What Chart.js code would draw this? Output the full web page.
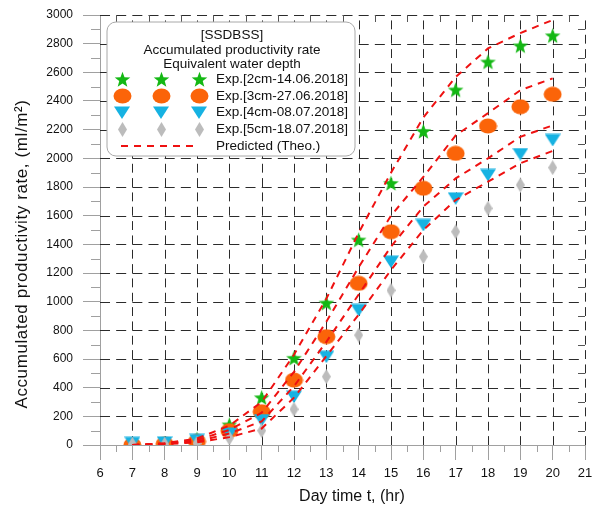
<!DOCTYPE html>
<html>
<head>
<meta charset="utf-8">
<script src="https://cdn.jsdelivr.net/npm/chart.js@4"></script>
<style>
  html, body { margin: 0; padding: 0; background: #ffffff; }
  #wrap { width: 594px; height: 508px; position: relative; }
</style>
</head>
<body>
<div id="wrap"><canvas id="c" width="594" height="508"></canvas></div>
<script>
// ---------------- data ----------------
const hours = [7, 8, 9, 10, 11, 12, 13, 14, 15, 16, 17, 18, 19, 20];
const exp2cm = [0, 10, 40, 140, 330, 605, 990, 1430, 1825, 2188, 2477, 2672, 2785, 2855];
const exp3cm = [0, 8, 25, 100, 232, 453, 756, 1128, 1488, 1791, 2035, 2226, 2360, 2447];
const exp4cm = [15, 18, 35, 80, 174, 337, 616, 942, 1279, 1535, 1721, 1884, 2030, 2128];
const exp5cm = [5, 5, 12, 48, 100, 249, 477, 767, 1079, 1314, 1488, 1651, 1814, 1935];
const pred2cm = [0, 12, 45, 135, 300, 630, 1020, 1480, 1900, 2285, 2567, 2767, 2874, 2965];
const pred3cm = [0, 10, 35, 105, 225, 510, 860, 1240, 1600, 1870, 2160, 2315, 2475, 2558];
const pred4cm = [0, 8, 25, 80, 165, 410, 720, 1050, 1384, 1663, 1860, 2000, 2150, 2230];
const pred5cm = [0, 6, 18, 55, 115, 330, 620, 910, 1221, 1500, 1709, 1837, 1966, 2052];

const xTickValues = [6, 7, 8, 9, 10, 11, 12, 13, 14, 15, 16, 17, 18, 19, 20, 21];
const yTickValues = [0, 200, 400, 600, 800, 1000, 1200, 1400, 1600, 1800, 2000, 2200, 2400, 2600, 2800, 3000];
const xMinorValues = [6.5, 7.5, 8.5, 9.5, 10.5, 11.5, 12.5, 13.5, 14.5, 15.5, 16.5, 17.5, 18.5, 19.5, 20.5];
const yMinorValues = [100, 300, 500, 700, 900, 1100, 1300, 1500, 1700, 1900, 2100, 2300, 2500, 2700, 2900];

const legendTitle = ['[SSDBSS]', 'Accumulated productivity rate', 'Equivalent water depth'];
const seriesLabels = ['Exp.[2cm-14.06.2018]', 'Exp.[3cm-27.06.2018]', 'Exp.[4cm-08.07.2018]', 'Exp.[5cm-18.07.2018]'];
const predictedLabel = 'Predicted (Theo.)';
const xTitle = 'Day time t, (hr)';
const yTitle = 'Accumulated productivity rate, (ml/m\u00B2)';

// ---------------- marker images ----------------
const FONT = "'Liberation Sans', Arial, Helvetica, sans-serif";
function mk(w, h, draw) {
  const c = document.createElement('canvas');
  c.width = w; c.height = h;
  const g = c.getContext('2d');
  draw(g, w, h);
  return c;
}
const starImg = mk(17, 17, (g, w, h) => {
  const cx = w / 2, cy = h / 2 + 0.5, R = 8.2, r = 3.4;
  g.beginPath();
  for (let i = 0; i < 10; i++) {
    const a = -Math.PI / 2 + i * Math.PI / 5;
    const rr = i % 2 === 0 ? R : r;
    const px = cx + rr * Math.cos(a), py = cy + rr * Math.sin(a);
    i === 0 ? g.moveTo(px, py) : g.lineTo(px, py);
  }
  g.closePath();
  g.fillStyle = '#14b814';
  g.fill();
});
const circleImg = mk(19, 16, (g, w, h) => {
  g.beginPath();
  g.ellipse(w / 2, h / 2, 9, 7.6, 0, 0, Math.PI * 2);
  g.fillStyle = '#fb6409';
  g.fill();
});
const triImg = mk(16, 13, (g, w, h) => {
  g.beginPath();
  g.moveTo(0, 0.5); g.lineTo(w, 0.5); g.lineTo(w / 2, h);
  g.closePath();
  g.fillStyle = '#16b2e2';
  g.fill();
});
const diaImg = mk(9, 15, (g, w, h) => {
  g.beginPath();
  g.moveTo(w / 2, 0); g.lineTo(w, h / 2); g.lineTo(w / 2, h); g.lineTo(0, h / 2);
  g.closePath();
  g.fillStyle = '#bcbcbc';
  g.fill();
});
const markerImgs = [starImg, circleImg, triImg, diaImg];

const pts = (ys) => hours.map((h, i) => ({ x: h, y: ys[i] }));

function expSet(label, ys, img, order) {
  return { label, data: pts(ys), pointStyle: img, pointRadius: 8, showLine: false, order,
           backgroundColor: 'rgba(0,0,0,0)', borderColor: 'rgba(0,0,0,0)' };
}
function predSet(ys) {
  return { label: predictedLabel, data: pts(ys), showLine: true, pointRadius: 0, order: 0,
           borderColor: '#ee1111', borderWidth: 2, borderDash: [7, 6], tension: 0, fill: false };
}

// ---------------- plugins ----------------
const dashedGrid = {
  id: 'dashedGrid',
  beforeDatasetsDraw(chart) {
    const ctx = chart.ctx, xs = chart.scales.x, ys = chart.scales.y, a = chart.chartArea;
    const cellW = Math.abs(xs.getPixelForValue(xTickValues[1]) - xs.getPixelForValue(xTickValues[0]));
    const cellH = Math.abs(ys.getPixelForValue(yTickValues[0]) - ys.getPixelForValue(yTickValues[1]));
    ctx.save();
    ctx.strokeStyle = '#2b2b2b';
    ctx.lineWidth = 1;
    // vertical lines, drawn upward so a dash sits just above every crossing
    ctx.setLineDash([cellH / 2 * 0.62, cellH / 2 * 0.38]);
    xTickValues.forEach((v, i) => {
      if (i === 0) return;
      const px = Math.round(xs.getPixelForValue(v)) + 0.5;
      ctx.beginPath(); ctx.moveTo(px, a.bottom); ctx.lineTo(px, a.top); ctx.stroke();
    });
    // horizontal lines, drawn rightward so a dash starts at every crossing
    ctx.setLineDash([cellW / 2 * 0.62, cellW / 2 * 0.38]);
    yTickValues.forEach((v, i) => {
      if (i === 0) return;
      const py = Math.round(ys.getPixelForValue(v)) + 0.5;
      ctx.beginPath(); ctx.moveTo(a.left, py); ctx.lineTo(a.right, py); ctx.stroke();
    });
    ctx.setLineDash([]);
    // minor ticks: outside on bottom/left, inside on top/right
    ctx.strokeStyle = '#a0a0a0';
    ctx.beginPath();
    xMinorValues.forEach(v => {
      const px = Math.round(xs.getPixelForValue(v)) + 0.5;
      ctx.moveTo(px, a.bottom); ctx.lineTo(px, a.bottom + 7);
    });
    yMinorValues.forEach(v => {
      const py = Math.round(ys.getPixelForValue(v)) + 0.5;
      ctx.moveTo(a.left - 9, py); ctx.lineTo(a.left, py);
    });
    ctx.stroke();
    ctx.strokeStyle = '#555';
    ctx.beginPath();
    xMinorValues.forEach(v => {
      const px = Math.round(xs.getPixelForValue(v)) + 0.5;
      ctx.moveTo(px, a.top); ctx.lineTo(px, a.top + 7);
    });
    yMinorValues.forEach(v => {
      const py = Math.round(ys.getPixelForValue(v)) + 0.5;
      ctx.moveTo(a.right - 7, py); ctx.lineTo(a.right, py);
    });
    ctx.stroke();
    ctx.restore();
  }
};

const axisTitles = {
  id: 'axisTitles',
  afterDraw(chart) {
    const ctx = chart.ctx;
    ctx.save();
    ctx.fillStyle = '#111';
    ctx.textAlign = 'center';
    ctx.textBaseline = 'middle';
    ctx.font = '16px ' + FONT;
    ctx.fillText(xTitle, 352, 497);
    ctx.translate(22, 254);
    ctx.rotate(-Math.PI / 2);
    ctx.font = '17px ' + FONT;
    try { ctx.letterSpacing = '0.6px'; } catch (e) {}
    ctx.fillText(yTitle, 0, 0);
    ctx.restore();
  }
};

const boxLegend = {
  id: 'boxLegend',
  afterDraw(chart) {
    const ctx = chart.ctx;
    const bx = 107, by = 22, bw = 248, bh = 134, r = 9;
    ctx.save();
    ctx.beginPath();
    ctx.moveTo(bx + r, by);
    ctx.arcTo(bx + bw, by, bx + bw, by + bh, r);
    ctx.arcTo(bx + bw, by + bh, bx, by + bh, r);
    ctx.arcTo(bx, by + bh, bx, by, r);
    ctx.arcTo(bx, by, bx + bw, by, r);
    ctx.closePath();
    ctx.fillStyle = '#ffffff';
    ctx.fill();
    ctx.lineWidth = 1;
    ctx.strokeStyle = '#a8a8a8';
    ctx.stroke();

    ctx.fillStyle = '#111';
    ctx.font = '13.5px ' + FONT;
    ctx.textAlign = 'center';
    ctx.textBaseline = 'middle';
    const titleY = [35, 50, 64];
    legendTitle.forEach((t, i) => ctx.fillText(t, 232, titleY[i]));

    const rowY = [79, 96, 112, 129, 146];
    const mx = [122, 161, 199];
    ctx.textAlign = 'left';
    seriesLabels.forEach((t, i) => {
      const img = markerImgs[i];
      mx.forEach(x => ctx.drawImage(img, Math.round(x - img.width / 2), Math.round(rowY[i] - img.height / 2)));
      ctx.fillText(t, 216, rowY[i]);
    });
    ctx.strokeStyle = '#ee1111';
    ctx.lineWidth = 2;
    ctx.setLineDash([7, 6]);
    ctx.beginPath();
    ctx.moveTo(121, rowY[4]); ctx.lineTo(197, rowY[4]);
    ctx.stroke();
    ctx.setLineDash([]);
    ctx.fillText(predictedLabel, 216, rowY[4]);
    ctx.restore();
  }
};

// ---------------- chart ----------------
new Chart(document.getElementById('c'), {
  type: 'scatter',
  data: {
    datasets: [
      predSet(pred2cm), predSet(pred3cm), predSet(pred4cm), predSet(pred5cm),
      expSet(seriesLabels[3], exp5cm, diaImg, 1),
      expSet(seriesLabels[2], exp4cm, triImg, 2),
      expSet(seriesLabels[1], exp3cm, circleImg, 3),
      expSet(seriesLabels[0], exp2cm, starImg, 4)
    ]
  },
  options: {
    responsive: false,
    animation: false,
    events: [],
    layout: { padding: { top: 15, right: 6, bottom: 0, left: 0 } },
    plugins: { legend: { display: false }, tooltip: { enabled: false } },
    scales: {
      x: {
        type: 'linear', min: 6, max: 21,
        afterBuildTicks: s => { s.ticks = xTickValues.map(v => ({ value: v })); },
        afterFit: s => { s.height = 63; s.paddingLeft = 0; s.paddingRight = 0; },
        ticks: { color: '#111', font: { family: FONT, size: 13 }, padding: 6, maxRotation: 0, autoSkip: false,
                 callback: v => String(v) },
        grid: { drawOnChartArea: false, drawTicks: true, color: '#a0a0a0', lineWidth: 1, tickLength: 15, tickColor: '#a0a0a0' },
        border: { display: true, color: '#a0a0a0', width: 1 },
        title: { display: false }
      },
      y: {
        type: 'linear', min: 0, max: 3000,
        afterBuildTicks: s => { s.ticks = yTickValues.map(v => ({ value: v })); },
        afterFit: s => { s.width = 100; s.paddingTop = 0; s.paddingBottom = 0; },
        ticks: { color: '#111', font: { family: FONT, size: 12 }, padding: 10, autoSkip: false,
                 callback: v => String(v) },
        grid: { drawOnChartArea: false, drawTicks: true, color: '#a0a0a0', lineWidth: 1, tickLength: 17, tickColor: '#a0a0a0' },
        border: { display: true, color: '#a0a0a0', width: 1 },
        title: { display: false }
      }
    }
  },
  plugins: [dashedGrid, axisTitles, boxLegend]
});
</script>
</body>
</html>
